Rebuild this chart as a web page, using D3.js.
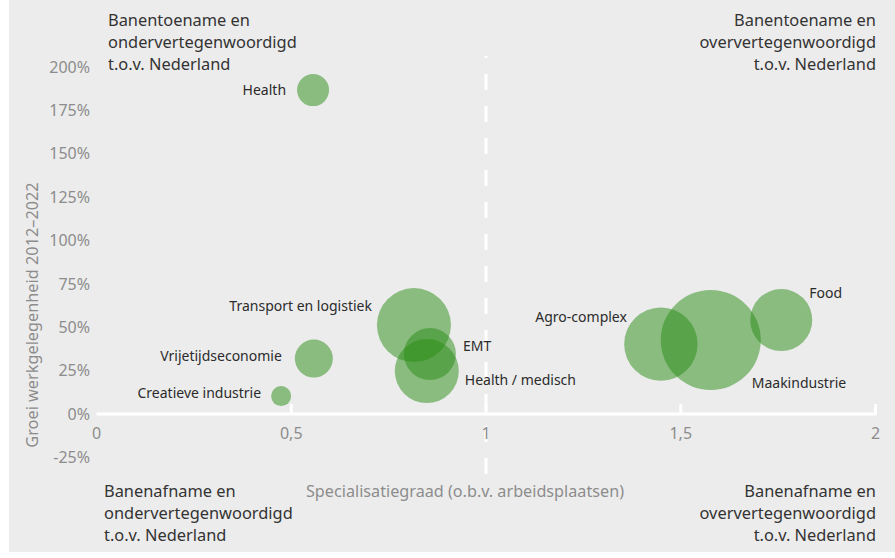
<!DOCTYPE html>
<html>
<head>
<meta charset="utf-8">
<script src="https://cdn.jsdelivr.net/npm/d3@7"></script>
<style>
  body { margin: 0; background: #fff; }
  svg { display: block; font-family: "Noto Sans", sans-serif; }
</style>
</head>
<body>
<div id="chart"></div>
<script>
var width = 895
var height = 558

// data
var sectors = ["Health", "Creatieve industrie", "Vrijetijdseconomie", "Transport en logistiek",
    "EMT", "Health / medisch", "Agro-complex", "Maakindustrie", "Food"]
var specialisatie = [0.556, 0.474, 0.558, 0.815, 0.856, 0.848, 1.449, 1.577, 1.758]
var groei = [186.7, 10.4, 32, 51.3, 34.6, 24.8, 40.3, 42.7, 54.2]
var banen = [2560, 1000, 3610, 13700, 6760, 10240, 13470, 25000, 9610]

var xTicks = [0, 0.5, 1, 1.5, 2]
var xTickLabels = ["0", "0,5", "1", "1,5", "2"]
var yTicks = [-25, 0, 25, 50, 75, 100, 125, 150, 175, 200]

// where each label sits relative to its bubble
var labelPos = {
    "Health": {dx: -1, dy: 0, anchor: "end", pad: 11},
    "Creatieve industrie": {dx: -1, dy: -3, anchor: "end", pad: 10},
    "Vrijetijdseconomie": {dx: -1, dy: -2, anchor: "end", pad: 13},
    "Transport en logistiek": {dx: -1, dy: -19, anchor: "end", pad: 5},
    "EMT": {dx: 1, dy: -8, anchor: "start", pad: 7},
    "Health / medisch": {dx: 1, dy: 9, anchor: "start", pad: 6},
    "Agro-complex": {dx: 0, dy: -27, x: -34, anchor: "end"},
    "Maakindustrie": {dx: 0, dy: 43, x: 41, anchor: "start"},
    "Food": {dx: 0, dy: -27, x: 28, anchor: "start"}
}

var data = sectors.map(function(d, i) {
    return {name: d, x: specialisatie[i], y: groei[i], size: banen[i]}
})

var svg = d3.select("#chart")
    .append("svg")
    .attr("width", width)
    .attr("height", height)

svg.append("rect")
    .attr("x", 9).attr("y", 0)
    .attr("width", width - 9).attr("height", 552)
    .attr("fill", "#ececec")

var x = d3.scaleLinear().domain([0, 2]).range([96.5, 875.5])
var y = d3.scaleLinear().domain([-25, 200]).range([457.5, 67])
var r = d3.scaleSqrt().domain([0, 25000]).range([0, 50])

// dashed line at specialisatiegraad 1
svg.append("line")
    .attr("x1", x(1)).attr("x2", x(1))
    .attr("y1", 474).attr("y2", 56)
    .attr("stroke", "#fff")
    .attr("stroke-width", 3)
    .attr("stroke-dasharray", "16,16")

// x axis
svg.append("line")
    .attr("x1", x(0)).attr("x2", x(2) + 1)
    .attr("y1", y(0)).attr("y2", y(0))
    .attr("stroke", "#fff")
    .attr("stroke-width", 3)

svg.selectAll(".xtick")
    .data(xTicks.filter(function(d) { return d > 0 }))
    .enter()
    .append("line")
    .attr("x1", function(d) { return x(d) })
    .attr("x2", function(d) { return x(d) })
    .attr("y1", y(0))
    .attr("y2", y(0) - 10)
    .attr("stroke", "#fff")
    .attr("stroke-width", 3)

svg.selectAll(".xlab")
    .data(xTicks)
    .enter()
    .append("text")
    .attr("x", function(d) { return x(d) })
    .attr("y", y(0) + 25)
    .attr("text-anchor", "middle")
    .attr("fill", "#8c8c8c")
    .style("font-size", "16px")
    .text(function(d, i) { return xTickLabels[i] })

svg.selectAll(".ylab")
    .data(yTicks)
    .enter()
    .append("text")
    .attr("x", 90)
    .attr("y", function(d) { return y(d) })
    .attr("dy", "0.35em")
    .attr("text-anchor", "end")
    .attr("fill", "#8c8c8c")
    .style("font-size", "16px")
    .text(function(d) { return d + "%" })

// axis titles
svg.append("text")
    .attr("x", 465)
    .attr("y", 497)
    .attr("text-anchor", "middle")
    .attr("fill", "#8c8c8c")
    .style("font-size", "16.2px")
    .text("Specialisatiegraad (o.b.v. arbeidsplaatsen)")

svg.append("text")
    .attr("transform", "translate(38,315) rotate(-90)")
    .attr("text-anchor", "middle")
    .attr("fill", "#8c8c8c")
    .style("font-size", "16.3px")
    .text("Groei werkgelegenheid 2012\u20132022")

// quadrant labels
var quadrants = [
    {lines: ["Banentoename en", "ondervertegenwoordigd", "t.o.v. Nederland"], x: 108, y: 26, anchor: "start"},
    {lines: ["Banentoename en", "oververtegenwoordigd", "t.o.v. Nederland"], x: 876, y: 26, anchor: "end"},
    {lines: ["Banenafname en", "ondervertegenwoordigd", "t.o.v. Nederland"], x: 104, y: 497, anchor: "start"},
    {lines: ["Banenafname en", "oververtegenwoordigd", "t.o.v. Nederland"], x: 876, y: 497, anchor: "end"}
]
quadrants.forEach(function(q) {
    var t = svg.append("text")
        .attr("x", q.x)
        .attr("y", q.y)
        .attr("text-anchor", q.anchor)
        .attr("fill", "#333")
        .style("font-size", "16.4px")
    q.lines.forEach(function(l, i) {
        t.append("tspan")
            .attr("x", q.x)
            .attr("dy", i === 0 ? 0 : 22)
            .text(l)
    })
})

// bubbles
svg.selectAll("circle")
    .data(data)
    .enter()
    .append("circle")
    .attr("cx", function(d) { return x(d.x) })
    .attr("cy", function(d) { return y(d.y) })
    .attr("r", function(d) { return r(d.size) })
    .attr("fill", "rgb(40,140,20)")
    .attr("fill-opacity", 0.5)

svg.selectAll(".blab")
    .data(data)
    .enter()
    .append("text")
    .attr("x", function(d) {
        var p = labelPos[d.name]
        if (p.x !== undefined) return x(d.x) + p.x
        return x(d.x) + p.dx * (r(d.size) + p.pad)
    })
    .attr("y", function(d) { return y(d.y) + labelPos[d.name].dy })
    .attr("dy", "0.35em")
    .attr("text-anchor", function(d) { return labelPos[d.name].anchor })
    .attr("fill", "#2b2b2b")
    .style("font-size", "14px")
    .text(function(d) { return d.name })
</script>
</body>
</html>
